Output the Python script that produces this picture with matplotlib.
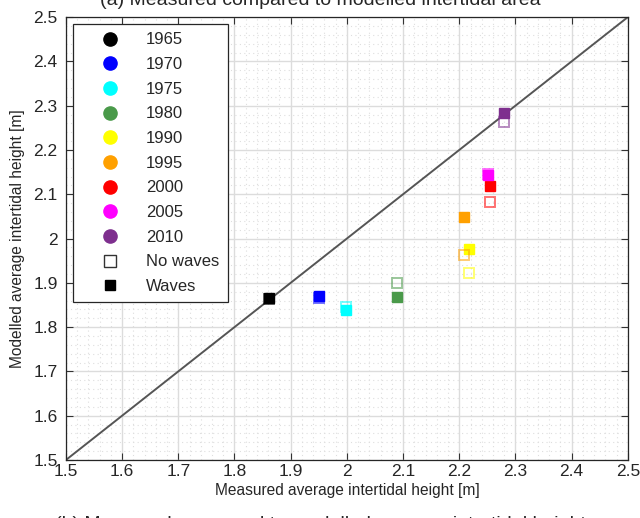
import matplotlib
matplotlib.use("Agg")
import matplotlib.pyplot as plt
from matplotlib.lines import Line2D
import numpy as np

plt.rcParams['font.family'] = ['Liberation Sans', 'DejaVu Sans']

years = ['1965', '1970', '1975', '1980', '1990', '1995', '2000', '2005', '2010']
colors = ['#000000', '#0000ff', '#00ffff', '#4a9a4a', '#ffff00', '#ffa000', '#ff0000', '#ff00ff', '#7e2f8e']
measured = [1.862, 1.951, 1.998, 2.090, 2.218, 2.209, 2.254, 2.251, 2.279]
modelled_nowaves = [1.864, 1.866, 1.845, 1.900, 1.923, 1.963, 2.082, 2.146, 2.263]
modelled_waves = [1.865, 1.870, 1.839, 1.869, 1.977, 2.048, 2.118, 2.143, 2.284]

fig = plt.figure(figsize=(6.4, 5.18), dpi=100)
ax = fig.add_axes([0.103, 0.112, 0.878, 0.855])

ax.set_xlim(1.5, 2.5)
ax.set_ylim(1.5, 2.5)
ticks = np.round(np.arange(1.5, 2.501, 0.1), 1)
ax.set_xticks(ticks)
ax.set_yticks(ticks)
ax.set_xticklabels([('%g' % t) for t in ticks])
ax.set_yticklabels([('%g' % t) for t in ticks])
ax.set_xticks(np.arange(1.5, 2.5, 0.02), minor=True)
ax.set_yticks(np.arange(1.5, 2.5, 0.02), minor=True)
ax.grid(True, which='major', color='#dcdcdc', linewidth=1.0)
ax.grid(True, which='minor', color='#dedede', linewidth=0.8, linestyle=(0, (1, 3)))
ax.tick_params(which='major', direction='in', top=True, right=True, length=5,
               color='#333333', labelsize=12.5, labelcolor='#262626')
ax.tick_params(axis='y', which='major', pad=6)
ax.tick_params(axis='x', which='major', pad=3)
ax.tick_params(which='minor', length=0)
for s in ax.spines.values():
    s.set_color('#262626')
    s.set_linewidth(0.9)
ax.set_axisbelow(True)

ax.plot([1.5, 2.5], [1.5, 2.5], color='#555555', linewidth=1.4, zorder=2)

for x, yn, yw, c in zip(measured, modelled_nowaves, modelled_waves, colors):
    ax.plot(x, yw, marker='s', markersize=6.5, color=c, markeredgecolor=c, linestyle='none', zorder=3)
    ax.plot(x, yn, marker='s', markersize=7.5, markerfacecolor='none', markeredgecolor=c,
            markeredgewidth=1.4, alpha=0.55, linestyle='none', zorder=4)

ax.set_xlabel('Measured average intertidal height [m]', fontsize=11.2, color='#262626', labelpad=3)
ax.set_ylabel('Modelled average intertidal height [m]', fontsize=11.2, color='#262626', labelpad=6)

handles = [Line2D([], [], marker='o', linestyle='none', markersize=9.5, color=c, markeredgecolor=c)
           for c in colors]
handles.append(Line2D([], [], marker='s', linestyle='none', markersize=8, markerfacecolor='white',
                      markeredgecolor='#333333', markeredgewidth=1.0))
handles.append(Line2D([], [], marker='s', linestyle='none', markersize=7, color='black'))
labels = years + ['No waves', 'Waves']
leg = ax.legend(handles, labels, loc='upper left', fontsize=12, frameon=True, fancybox=False,
                edgecolor='#262626', framealpha=1.0, borderaxespad=0.42, labelspacing=0.58,
                handletextpad=0.44, borderpad=0.5, handlelength=3.44)
leg.get_frame().set_linewidth(0.9)
for t in leg.get_texts():
    t.set_color('#262626')

fig.text(0.5, 1 - 5 / 518, '(a) Measured compared to modelled intertidal area', ha='center',
         va='baseline', fontsize=14, color='#262626')
fig.text(0.5, 2 / 518, '(b) Measured compared to modelled average intertidal height', ha='center',
         va='top', fontsize=14, color='#262626')

fig.savefig('out.png', dpi=100)
